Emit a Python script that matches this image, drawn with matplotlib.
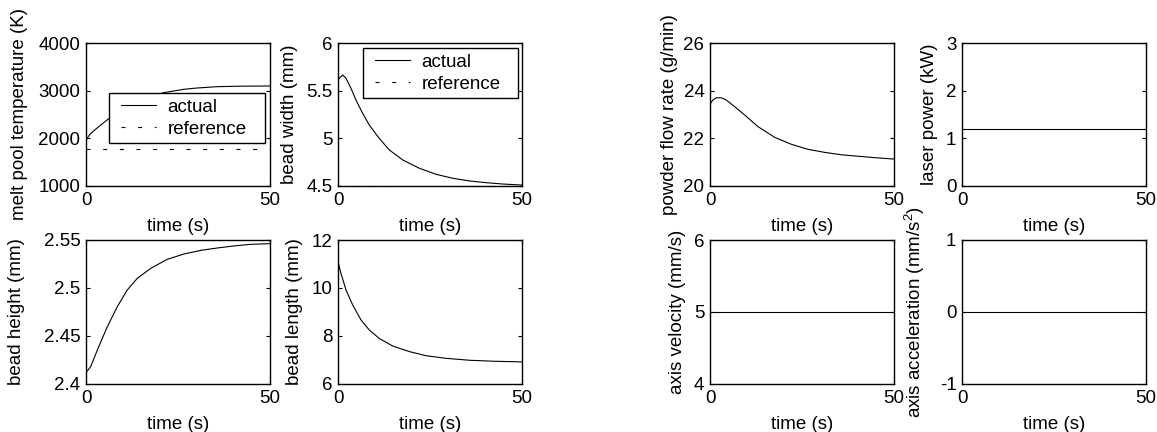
import matplotlib
matplotlib.use("Agg")
import matplotlib.pyplot as plt
from matplotlib.lines import Line2D
from matplotlib.legend_handler import HandlerLine2D

plt.rcParams['font.family'] = ['Liberation Sans', 'DejaVu Sans']
plt.rcParams['mathtext.default'] = 'regular'
FS = 13.5
plt.rcParams['font.size'] = FS

# ---- data ----
t_temp = [0, 1, 2.9, 6.3, 10, 15, 21.1, 26.6, 30, 35.7, 42, 50]
temp_actual = [1965, 2080, 2210, 2420, 2620, 2820, 2958, 3029, 3055, 3084, 3094, 3098]
temp_ref = 1780

t_width = [0, 0.36, 1.27, 2.17, 3.53, 4.89, 6.7, 8.5, 11.2, 13.95, 17.6, 22.1, 26.6,
           31.2, 35.7, 40.2, 44.7, 50]
width_actual = [5.61, 5.63, 5.664, 5.63, 5.525, 5.402, 5.262, 5.14, 5.0, 4.878, 4.773,
                4.686, 4.623, 4.581, 4.553, 4.535, 4.521, 4.51]
width_ref = 4.5

t_height = [0, 0.18, 1.27, 3.08, 5.8, 8.5, 11.2, 13.95, 17.6, 22.1, 26.6, 31.2, 35.7,
            40.2, 44.7, 50]
height_actual = [2.42, 2.4128, 2.418, 2.4354, 2.4597, 2.4805, 2.4979, 2.5101, 2.5205,
                 2.5299, 2.5354, 2.5392, 2.5417, 2.5438, 2.5455, 2.5462]

t_length = [0, 0.8, 2.17, 4, 6.25, 8.5, 11.2, 14.9, 19.4, 23.9, 29.3, 35.7, 42, 50]
length_actual = [11.1, 10.61, 9.92, 9.29, 8.67, 8.25, 7.9, 7.58, 7.35, 7.18, 7.07, 6.99,
                 6.95, 6.92]

t_powder = [0, 0.8, 1.7, 3.1, 4.4, 6.7, 9.4, 13.05, 17.6, 22.1, 26.6, 31.2, 35.7, 40.2,
            44.7, 50]
powder_actual = [23.44, 23.61, 23.7, 23.7, 23.61, 23.33, 22.98, 22.49, 22.04, 21.75,
                 21.54, 21.41, 21.31, 21.25, 21.19, 21.13]

t_const = [0, 50]
laser_power = [1.2, 1.2]
axis_velocity = [5, 5]
axis_accel = [0, 0]

panels = [
    ("temp", 86, 43, "melt pool temperature (K)", (1000, 4000), [1000, 2000, 3000, 4000], 28),
    ("width", 338, 43, "bead width (mm)", (4.5, 6), [4.5, 5, 5.5, 6], 298),
    ("height", 86, 240, "bead height (mm)", (2.4, 2.55), [2.4, 2.45, 2.5, 2.55], 25),
    ("length", 338, 240, "bead length (mm)", (6, 12), [6, 8, 10, 12], 303),
    ("powder", 710, 43, "powder flow rate (g/min)", (20, 26), [20, 22, 24, 26], 678),
    ("laser", 962, 43, "laser power (kW)", (0, 3), [0, 1, 2, 3], 938),
    ("vel", 710, 240, "axis velocity (mm/s)", (4, 6), [4, 5, 6], 686),
    ("acc", 962, 240, "axis acceleration (mm/s$^2$)", (-1, 1), [-1, 0, 1], 927),
]

W, H = 1157, 432
fig = plt.figure(figsize=(W / 100, H / 100), dpi=100)

axes = {}
for key, lpx, tpx, ylabel, ylim, yticks, lab_px in panels:
    wpx = 184
    hpx = 144 if tpx > 200 else 143
    ax = fig.add_axes([lpx / W, 1 - (tpx + hpx) / H, wpx / W, hpx / H])
    ax.set_xlim(0, 50)
    ax.set_ylim(*ylim)
    ax.set_xticks([0, 50])
    ax.set_xticklabels(['0', '50'])
    ax.set_yticks(yticks)
    ax.set_yticklabels([('%g' % v) for v in yticks])
    ax.tick_params(direction='in', length=3, width=0.8, top=True, right=True,
                   labelsize=FS, pad=4, colors='black')
    for s in ax.spines.values():
        s.set_linewidth(1.0)
    ax.set_xlabel('time (s)', fontsize=FS, labelpad=6.5)
    ax.set_ylabel(ylabel, fontsize=FS)
    ax.yaxis.set_label_coords((lab_px - lpx) / wpx, 0.5)
    axes[key] = ax

lw = 0.8
dash = (0, (3.6, 11.4))
leg_kw = dict(loc='lower left', mode='expand', fancybox=False, framealpha=1,
              edgecolor='black', handlelength=2.21, handletextpad=0.64,
              borderpad=0.27, labelspacing=0.28, fontsize=FS, borderaxespad=0,
              handler_map={Line2D: HandlerLine2D(xpad=0.35)})

ax = axes['temp']
ax.plot(t_temp, temp_actual, color='black', lw=lw, label='actual')
ax.plot(t_const, [temp_ref, temp_ref], color='black', lw=lw, linestyle=dash, label='reference')
leg = ax.legend(bbox_to_anchor=(0.126, 0.30, 0.847, 0.343), **leg_kw)
leg.get_frame().set_linewidth(1.0)

ax = axes['width']
ax.plot(t_width, width_actual, color='black', lw=lw, label='actual')
ax.plot(t_const, [width_ref, width_ref], color='black', lw=lw, linestyle=dash, label='reference')
leg = ax.legend(bbox_to_anchor=(0.136, 0.615, 0.842, 0.343), **leg_kw)
leg.get_frame().set_linewidth(1.0)

axes['height'].plot(t_height, height_actual, color='black', lw=lw)
axes['length'].plot(t_length, length_actual, color='black', lw=lw)
axes['powder'].plot(t_powder, powder_actual, color='black', lw=lw)
axes['laser'].plot(t_const, laser_power, color='black', lw=lw)
axes['vel'].plot(t_const, axis_velocity, color='black', lw=lw)
axes['acc'].plot(t_const, axis_accel, color='black', lw=lw)

fig.savefig('out.png', dpi=100)
